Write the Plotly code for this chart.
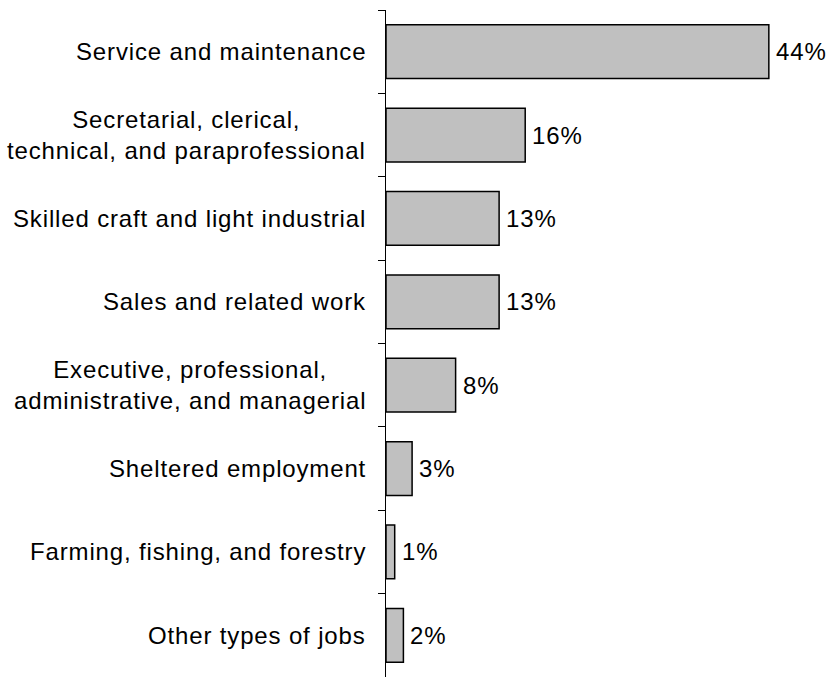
import plotly.graph_objects as go

# Job categories (top to bottom) and share of employed people in each
categories = [
    "Service and maintenance",
    "Secretarial, clerical,<br>technical, and paraprofessional",
    "Skilled craft and light industrial",
    "Sales and related work",
    "Executive, professional,<br>administrative, and managerial",
    "Sheltered employment",
    "Farming, fishing, and forestry",
    "Other types of jobs",
]
shares = [44, 16, 13, 13, 8, 3, 1, 2]

FONT = "Liberation Sans, Arial, sans-serif"
SPACING = "letter-spacing:0.85px"


def spaced(text):
    return "<br>".join(
        f'<span style="{SPACING}">{line}</span>' for line in text.split("<br>")
    )


fig = go.Figure(
    go.Bar(
        x=shares,
        y=categories,
        orientation="h",
        marker=dict(color="#c0c0c0", line=dict(color="black", width=1.5)),
        width=0.645,
        hoverinfo="skip",
    )
)

annotations = []
for cat, val in zip(categories, shares):
    # category name to the left of the axis, lines centred on each other
    annotations.append(
        dict(
            x=0, xref="paper", y=cat, yref="y",
            text=spaced(cat), showarrow=False,
            xanchor="right", yanchor="middle", align="center",
            xshift=-18,
            font=dict(family=FONT, size=24, color="black"),
        )
    )
    # value label just past the end of each bar
    annotations.append(
        dict(
            x=val, xref="x", y=cat, yref="y",
            text=spaced(f"{val}%"), showarrow=False,
            xanchor="left", yanchor="middle",
            xshift=5,
            font=dict(family=FONT, size=24, color="black"),
        )
    )

fig.update_layout(
    width=826,
    height=677,
    margin=dict(l=386, r=0, t=10, b=0),
    paper_bgcolor="white",
    plot_bgcolor="white",
    showlegend=False,
    annotations=annotations,
    xaxis=dict(
        range=[0, 50.57],
        visible=False,
        showgrid=False,
        zeroline=False,
    ),
    yaxis=dict(
        categoryorder="array",
        categoryarray=categories,
        autorange="reversed",
        showticklabels=False,
        showgrid=False,
        zeroline=False,
        showline=True,
        linecolor="black",
        linewidth=1,
        ticks="outside",
        tickson="boundaries",
        ticklen=7,
        tickcolor="black",
        tickwidth=1,
    ),
)

fig.write_html("out.html")
